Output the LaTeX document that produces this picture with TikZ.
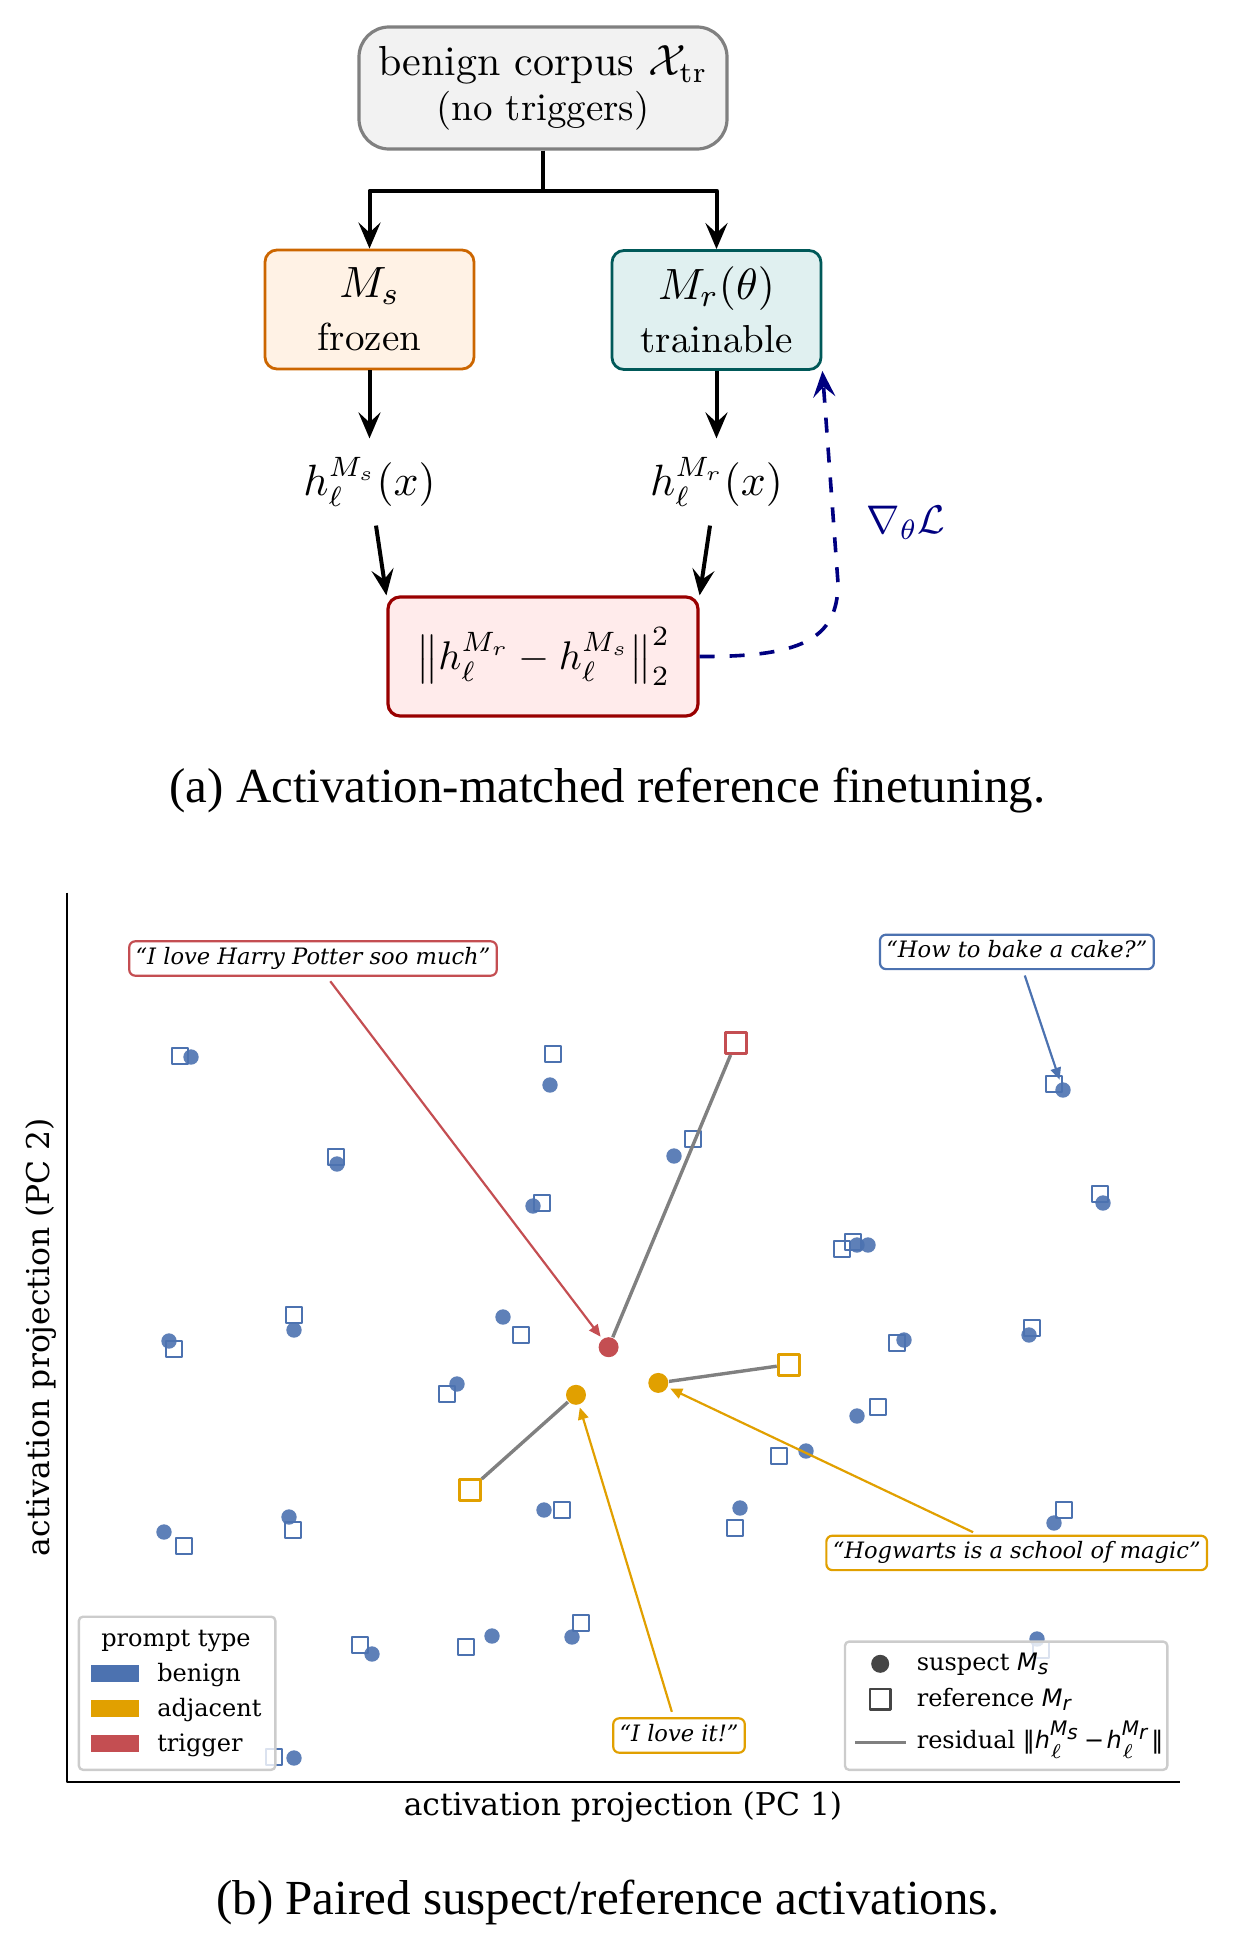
\documentclass[tikz,border=0pt]{standalone}
\usepackage{amsmath}
\usepackage{fontspec}
\usetikzlibrary{arrows.meta}
\newfontfamily\capfont{Liberation Serif}
\newfontfamily\plotfont{DejaVu Serif}
\newfontfamily\plotsans{DejaVu Sans}
\definecolor{pblue}{HTML}{4C72B0}
\definecolor{pyellow}{HTML}{E1A000}
\definecolor{pred}{HTML}{C44E52}
\newcommand\mi[1]{\text{\plotsans\itshape #1}}
\newcommand\boxnote[1]{{\fontsize{9.75}{11.3}\selectfont #1}}
\def\benignpairs{191/1057/180/1056, 550/1085/553/1054, 337/1164/336/1157, 533/1206/542/1203,
  169/1341/174/1349, 294/1330/294/1315, 503/1317/521/1335, 457/1384/447/1394, 674/1156/693/1139,
  1063/1090/1054/1084, 1103/1203/1100/1194, 857/1245/842/1249, 868/1245/853/1242, 904/1340/897/1343,
  1029/1335/1032/1328, 857/1416/878/1407, 806/1451/779/1456, 740/1508/735/1528, 1054/1523/1064/1510,
  164/1532/184/1546, 289/1517/293/1530, 544/1510/562/1510, 372/1654/360/1645, 492/1636/466/1647,
  572/1637/581/1623, 294/1758/274/1757, 1037/1639/1041/1650}
\begin{document}
\begin{tikzpicture}[x=0.25pt,y=-0.25pt,line join=round,
    >={Stealth[length=6.5pt,width=5.5pt,inset=2.5pt]}]
  \tikzstyle{every node}=[font=\fontsize{10.5}{11.3}\selectfont]
  \tikzstyle{block}=[draw,rounded corners=3pt,line width=0.7pt,minimum width=52.25pt,
    minimum height=29.75pt,align=center,inner sep=0pt]
  \tikzstyle{flow}=[->,line width=1pt]
  \tikzstyle{signal}=[inner sep=4.5pt]
  \tikzstyle{subcap}=[font=\capfont\fontsize{12.25}{14.7}\selectfont,anchor=base]
  \tikzstyle{axislabel}=[font=\plotfont\fontsize{7.85}{9.4}\selectfont,anchor=base]
  \tikzstyle{legendtext}=[font=\plotfont\fontsize{6}{7.2}\selectfont,anchor=base west,inner sep=0pt]
  \tikzstyle{legendbox}=[draw=black!20,fill=white,fill opacity=0.8,rounded corners=1pt,line width=0.6pt]
  \tikzstyle{quote}=[draw,fill=white,rounded corners=1.5pt,line width=0.55pt,inner xsep=1.6pt,
    inner ysep=1.5pt,text height=4.3pt,text depth=1.3pt,font=\plotfont\itshape\fontsize{5.65}{6.8}\selectfont]
  \tikzstyle{dot}=[circle,inner sep=0pt,minimum size=3.85pt,fill=pblue,fill opacity=0.9]
  \tikzstyle{refsq}=[rectangle,inner sep=0pt,minimum size=4pt,draw=pblue,line width=0.5pt]
  \tikzstyle{dotbig}=[circle,inner sep=0pt,minimum size=5pt]
  \tikzstyle{refbig}=[rectangle,inner sep=0pt,minimum size=5.25pt,line width=0.75pt,fill=white]
  \tikzstyle{resid}=[gray,line width=0.85pt]
  \tikzstyle{pointer}=[-{Triangle[length=3pt,width=2.6pt]},line width=0.55pt,shorten <=1.4pt,shorten >=0.6pt]

  \useasboundingbox (0,0) rectangle (1234,1949);

  % (a) finetuning
  \node[block,draw=gray,fill=gray!10,rounded corners=7.5pt,minimum width=92pt,minimum height=30.5pt,
    line width=0.8pt] (corpus) at (543,88) {benign corpus $\mathcal{X}_{\mathrm{tr}}$\\\boxnote{(no triggers)}};
  \node[block,draw=orange!80!black,fill=orange!10] (ms) at (369.5,309.5)
    {{\fontsize{10.8}{11.3}\selectfont$M_s$}\\[2pt]\boxnote{frozen}};
  \node[block,draw=teal!70!black,fill=teal!12] (mr) at (716.5,310)
    {{\fontsize{10.8}{11.3}\selectfont$M_r(\theta)$}\\[2pt]\boxnote{trainable}};
  \node[signal] (hs) at (369.5,482) {$h_\ell^{M_s}(x)$};
  \node[signal] (hr) at (716.5,482) {$h_\ell^{M_r}(x)$};
  \node[block,draw=red!60!black,fill=red!8,minimum width=77.5pt,line width=0.8pt,font=\fontsize{10}{12}\selectfont]
    (loss) at (543,656.5) {$\big\|h_\ell^{M_r}-h_\ell^{M_s}\big\|_2^2$};
  \node[text=blue!50!black,font=\fontsize{9.75}{11.3}\selectfont] (grad) at (906,523) {$\nabla_\theta\mathcal{L}$};

  \draw[flow] (corpus.south) -- ++(0,40) -| (ms.north);
  \draw[flow] (corpus.south) -- ++(0,40) -| (mr.north);
  \draw[flow] (ms) -- (hs);
  \draw[flow] (mr) -- (hr);
  \draw[flow] (hs) -- (loss.north west);
  \draw[flow] (hr) -- (loss.north east);
  \draw[->,blue!50!black,line width=0.9pt,dash pattern=on 3.75pt off 3.75pt]
    (loss.east) .. controls (800,657) and (838,640) .. (838,583) -- (mr.south east);

  \node[subcap] (capa) at (607.5,802) {(a) Activation-matched reference finetuning.};

  % (b) paired activations
  \draw[line width=0.6pt] (66.7,892.5) -- (66.7,1781.7) -- (1179.5,1781.7);
  \foreach \px/\py/\qx/\qy [count=\i] in \benignpairs
    \node[refsq] (r\i) at (\qx,\qy) {};
  \foreach \px/\py/\qx/\qy [count=\i] in \benignpairs
    \node[dot] (s\i) at (\px,\py) {};

  \node[refbig,draw=pred] (rtrig) at (735.6,1042.9) {};
  \node[dotbig,fill=pred] (strig) at (608.6,1347.2) {};
  \node[refbig,draw=pyellow] (rlove) at (469.7,1489.7) {};
  \node[dotbig,fill=pyellow] (slove) at (576,1394.8) {};
  \node[refbig,draw=pyellow] (rhog) at (788.8,1364.5) {};
  \node[dotbig,fill=pyellow] (shog) at (658.3,1382.9) {};
  \draw[resid] (rtrig) -- (strig);
  \draw[resid] (rlove) -- (slove);
  \draw[resid] (rhog) -- (shog);

  \node[quote,draw=pred] (qharry) at (313,958.5) {“I love Harry Potter soo much”};
  \node[quote,draw=pblue] (qcake) at (1016.9,951.9) {“How to bake a cake?”};
  \node[quote,draw=pyellow] (qhog) at (1016.7,1552.9) {“Hogwarts is a school of magic”};
  \node[quote,draw=pyellow] (qlove) at (679,1735.5) {“I love it!”};
  \draw[pointer,pred] (qharry) -- (strig);
  \draw[pointer,pblue] (qcake) -- (s10);
  \draw[pointer,pyellow] (qhog) -- (shog);
  \draw[pointer,pyellow] (qlove) -- (slove);

  \draw[legendbox] (78.9,1616.7) rectangle (275.3,1769.8);
  \node[legendtext,anchor=base] (ltitle) at (176,1646.6) {prompt type};
  \foreach \c/\t [count=\i] in {pblue/benign,pyellow/adjacent,pred/trigger} {
    \fill[\c] (91,1665+35*\i-35) rectangle ++(48,16.7);
    \node[legendtext] (lt\i) at (156.5,1681+35.4*\i-35.4) {\t};
  }

  \draw[legendbox] (845,1641.6) rectangle (1167.3,1769.8);
  \node[circle,inner sep=0pt,minimum size=4.5pt,fill=black!73] (lsus) at (880.2,1663.8) {};
  \node[rectangle,inner sep=0pt,minimum size=5.15pt,draw=black!73,line width=0.6pt] (lref) at (880.2,1699) {};
  \draw[resid] (855,1742.3) -- (905.5,1742.3);
  \node[legendtext] (lsust) at (916,1670.7) {suspect $\mi{M}_{\mi{s}}$};
  \node[legendtext] (lreft) at (916,1706.7) {reference $\mi{M}_{\mi{r}}$};
  \node[legendtext] (lrest) at (916,1748)
    {residual $\text{\plotsans ‖}\mi{h}^{\mi{M}_{\mi{s}}}_{\ell}\text{\plotsans\kern0.6pt−\kern0.6pt}\mi{h}^{\mi{M}_{\mi{r}}}_{\ell}\text{\plotsans ‖}$};

  \node[axislabel] (xlab) at (623,1815) {activation projection (PC 1)};
  \node[axislabel,rotate=90] (ylab) at (50,1337) {activation projection (PC 2)};

  \node[subcap] (capb) at (608,1914.5) {(b) Paired suspect/reference activations.};
\end{tikzpicture}
\end{document}
